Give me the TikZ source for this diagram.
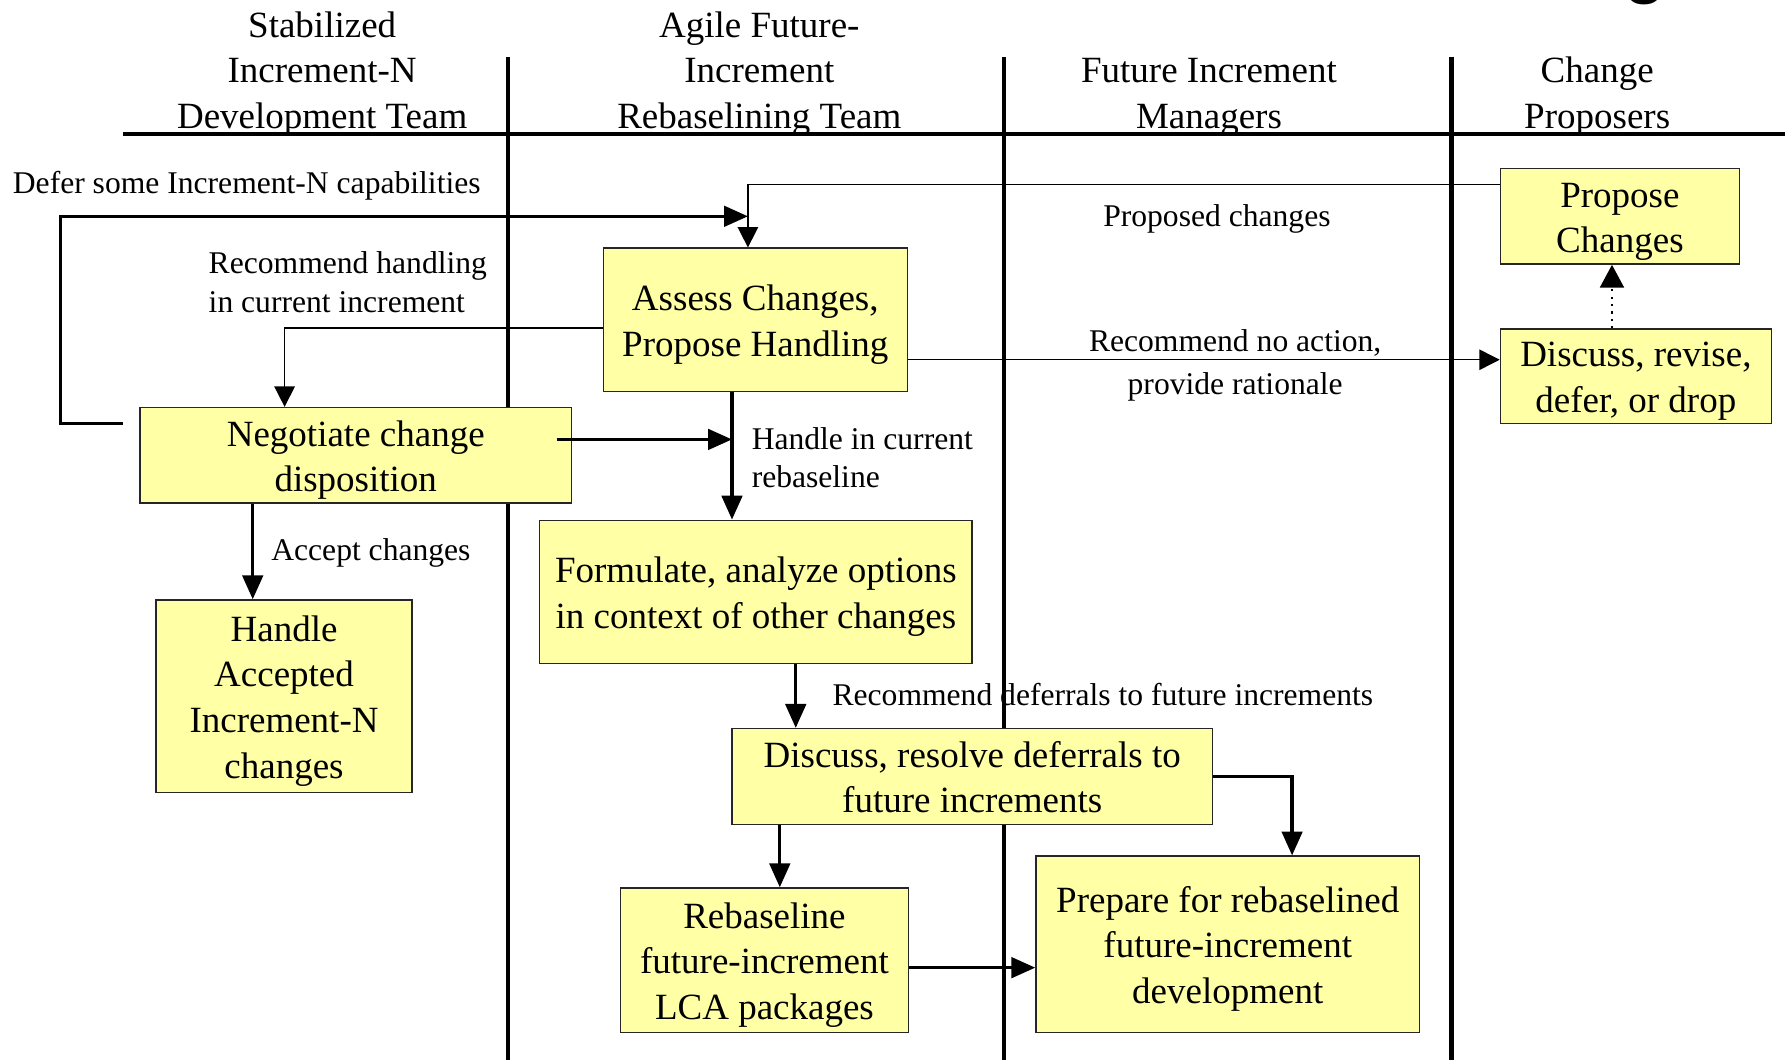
\documentclass[tikz,border=0pt]{standalone}
\usepackage{fontspec}
\setmainfont{Liberation Serif}
\setsansfont{Liberation Sans}
\usetikzlibrary{arrows.meta}
\definecolor{boxyellow}{RGB}{255,255,166}
% even out first and last line so the text sits in the middle of its box
\newcommand{\boxlines}[1]{\rule{0pt}{18pt}#1\rule[-4.5pt]{0pt}{9pt}}

\begin{document}
\begin{tikzpicture}[x=0.02cm,y=-0.02cm]

    \tikzset{
      taskbox/.style 2 args={
        draw=black!85,
        fill=boxyellow,
        line width=0.7pt,
        align=center,
        inner sep=0pt,
        minimum width=#1,
        minimum height=#2,
        font=\fontsize{18.5}{22.8}\selectfont,
      },
      lanehead/.style={align=center, inner sep=0pt, font=\fontsize{18.5}{22.8}\selectfont},
      flowlabel/.style={align=left, inner sep=0pt, font=\fontsize{15.8}{19.4}\selectfont},
      lane/.style={line width=2.1pt},
      flow/.style={line width=1.65pt, -{Triangle[length=0.42cm,width=0.36cm]}},
      thinflow/.style={line width=0.75pt, -{Triangle[length=0.36cm,width=0.36cm]}},
    }
    \useasboundingbox (0,0) rectangle (1568,931);
    \begin{scope}
      \clip (0,0) rectangle (1568,931);
      \node[anchor=base, inner sep=0pt, font=\sffamily\bfseries\fontsize{34}{34}\selectfont] (gfrag) at (1445,-8) {g};
    \end{scope}

    % lane headings
    \node[lanehead] (hdev) at (283,61) {\boxlines{Stabilized\\Increment-N\\Development Team}};
    \node[lanehead] (hagile) at (667,61) {\boxlines{Agile Future-\\Increment\\Rebaselining Team}};
    \node[lanehead] (hmgr) at (1062,81) {\boxlines{Future Increment\\Managers}};
    \node[lanehead] (hprop) at (1403,81) {\boxlines{Change\\Proposers}};

    % flow labels
    \node[flowlabel, anchor=west] (ldefer) at (11,163) {Defer some Increment-N capabilities};
    \node[flowlabel, anchor=west] (lhandling) at (183,248) {Recommend handling\\in current increment};
    \node[flowlabel, align=center] (lproposed) at (1069,192) {Proposed changes};
    \node[flowlabel, align=center, font=\fontsize{15.8}{21.5}\selectfont] (lnoaction) at (1085,321) {Recommend no action,\\provide rationale};
    \node[flowlabel, anchor=west] (lcurrent) at (660,402) {Handle in current\\rebaseline};
    \node[flowlabel, anchor=west] (laccept) at (238,486) {Accept changes};
    \node[flowlabel, anchor=west] (ldefers) at (731,610) {Recommend deferrals to future increments};

    % swim lanes
    \draw[lane] (108,118) -- (1568,118);
    \foreach \x in {446,882,1275}
      \draw[lane] (\x,50) -- (\x,931);

    % activities
    \node[taskbox={4.2cm}{1.68cm}] (prop) at (1423,190) {\boxlines{Propose\\Changes}};
    \node[taskbox={4.76cm}{1.66cm}] (revise) at (1437,330.5) {\boxlines{Discuss, revise,\\defer, or drop}};
    \node[taskbox={5.34cm}{2.52cm}] (assess) at (663.5,281) {\boxlines{Assess Changes,\\Propose Handling}};
    \node[taskbox={7.58cm}{1.68cm}] (negot) at (312.5,400) {\boxlines{Negotiate change\\disposition}};
    \node[taskbox={4.5cm}{3.38cm}] (handle) at (249.5,611.5) {\boxlines{Handle\\Accepted\\Increment-N\\changes}};
    \node[taskbox={7.6cm}{2.52cm}] (formul) at (664,520) {\boxlines{Formulate, analyze options\\in context of other changes}};
    \node[taskbox={8.44cm}{1.68cm}] (resolve) at (854,682) {\boxlines{Discuss, resolve deferrals to\\future increments}};
    \node[taskbox={5.06cm}{2.54cm}] (rebase) at (671.5,843.5) {\boxlines{Rebaseline\\future-increment\\LCA packages}};
    \node[taskbox={6.74cm}{3.1cm}] (prepare) at (1078.5,829.5) {\boxlines{Prepare for rebaselined\\future-increment\\development}};

    % connectors
    \coordinate (deferstart) at (108,372);
    \coordinate (deferend) at (657,190);
    \coordinate (negout) at (489,386);
    \coordinate (negend) at (643,386);
    \draw[thinflow] (prop.west |- 0,162) -| (657,0 |- assess.north);
    \draw[flow] (deferstart) -| (53,190) -- (deferend);
    \draw[thinflow] (assess.west |- 0,288) -| (250,0 |- negot.north);
    \draw[thinflow] (assess.east |- 0,316) -- (revise.west |- 0,316);
    \draw[line width=1.1pt, dash pattern=on 1.1pt off 2.6pt, -{Triangle[length=0.4cm,width=0.42cm]}]
      (revise.north -| 1416,0) -- (prop.south -| 1416,0);
    \draw[flow] (negout) -- (negend);
    \draw[flow] (643,0 |- assess.south) -- (643,0 |- formul.north);
    \draw[flow] (222,0 |- negot.south) -- (222,0 |- handle.north);
    \draw[flow] (699,0 |- formul.south) -- (699,0 |- resolve.north);
    \draw[flow] (685,0 |- resolve.south) -- (685,0 |- rebase.north);
    \draw[flow] (resolve.east) -| (1135,0 |- prepare.north);
    \draw[flow] (rebase.east |- 0,850) -- (prepare.west |- 0,850);

\end{tikzpicture}
\end{document}
